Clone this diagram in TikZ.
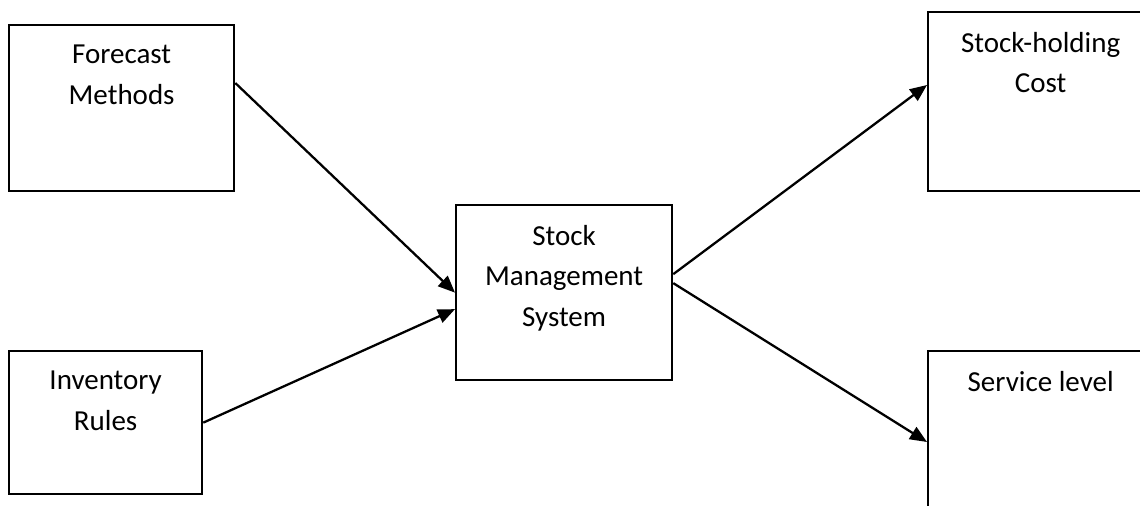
\documentclass[tikz,border=0pt]{standalone}
\usepackage{fontspec}
\setmainfont{Carlito}
\usetikzlibrary{positioning,arrows.meta}
\begin{document}
\begin{tikzpicture}[line width=1.3pt,
	box node/.style = {rectangle, draw, anchor=north west, inner sep=0pt},
	text node/.style = {align=center, inner sep=0pt, font=\fontsize{16.5}{23}\selectfont},
	flow/.style = {-{Triangle[length=0.34cm,width=0.28cm]}}]
	\useasboundingbox (0,0) rectangle (22.8,-10.1);
	\clip (0,0) rectangle (22.8,-10.1);
	% boxes
	\node[box node, minimum width=4.5cm, minimum height=3.32cm] (fm) at (0.16,-0.48) {};
	\node[box node, minimum width=3.86cm, minimum height=2.86cm] (ir) at (0.16,-7.0) {};
	\node[box node, minimum width=4.32cm, minimum height=3.5cm] (sms) at (9.1,-4.08) {};
	\node[box node, minimum width=4.5cm, minimum height=3.58cm] (shc) at (18.54,-0.22) {};
	\node[box node, minimum width=4.5cm, minimum height=3.6cm] (sl) at (18.54,-7.0) {};
	% labels
	\node[text node] [below=0.4cm of fm.north] (fmtext) {Forecast\\Methods};
	\node[text node] [below=0.4cm of ir.north] (irtext) {Inventory\\Rules};
	\node[text node] [below=0.4cm of sms.north] (smstext) {Stock\\Management\\System};
	\node[text node] [below=0.4cm of shc.north] (shctext) {Stock-holding\\Cost};
	\node[text node] [below=0.4cm of sl.north] (sltext) {Service level};
	
	\draw[flow] ([yshift=-1.18cm]fm.north east) -- (sms.west);
	\draw[flow] (ir.east) -- ([yshift=-0.33cm]sms.west);
	\draw[flow] ([yshift=0.37cm]sms.east) -- ([yshift=-1.48cm]shc.north west);
	\draw[flow] ([yshift=0.19cm]sms.east) -- ([yshift=-1.84cm]sl.north west);
\end{tikzpicture}
\end{document}
